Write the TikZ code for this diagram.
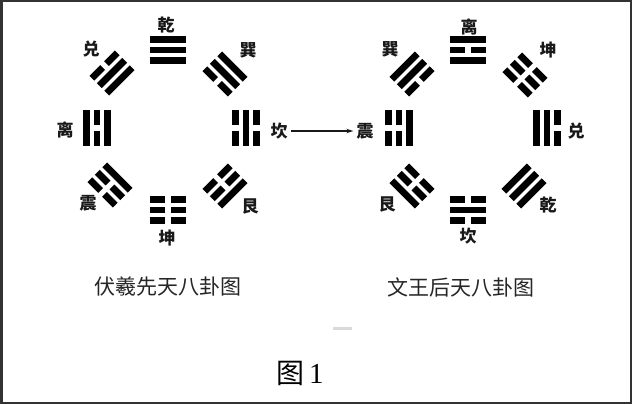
\documentclass[tikz,border=0pt]{standalone}
\usepackage{fontspec}
\setmainfont{Liberation Serif}
\newfontfamily\cjk{Noto Sans CJK SC}
\usetikzlibrary{arrows.meta}
\newcommand\gualine[2]{%
  \ifnum#2=1
    \fill (-18,#1-3.4) rectangle (18,#1+3.4);
  \else
    \fill (-18,#1-3.4) rectangle (-2.8,#1+3.4);
    \fill (2.8,#1-3.4) rectangle (18,#1+3.4);
  \fi}
\newcommand\gua[6]{%
  \begin{scope}[shift={(#1,-#2)},rotate=#3]
    \gualine{-10.5}{#4}\gualine{0}{#5}\gualine{10.5}{#6}
  \end{scope}}
\tikzset{
  glabel/.style={font=\cjk\bfseries\fontsize{17}{17}\selectfont, inner sep=0pt, text=black!90},
  caption/.style={font=\cjk\fontsize{21}{21}\selectfont, inner sep=0pt, text=black!85},
}
\begin{document}
\begin{tikzpicture}[x=1pt,y=1pt]
\fill[white] (0,0) rectangle (632,-404);
\useasboundingbox (0,0) rectangle (632,-404);
\draw[line width=2.5pt, black!80] (1.25,-1.25) rectangle (630.75,-402.75);
% Fuxi (left)
\gua{168}{50}{0}{1}{1}{1}
\gua{112}{73}{45}{1}{1}{0}
\gua{225}{74}{-45}{0}{1}{1}
\gua{97}{128}{90}{1}{0}{1}
\gua{246}{128}{-90}{0}{1}{0}
\gua{110}{185}{135}{1}{0}{0}
\gua{168}{210}{180}{0}{0}{0}
\gua{225}{186}{-135}{0}{0}{1}
\node[glabel] (fqian) at (166,-25) {乾};
\node[glabel] (fdui)  at (91,-49) {兑};
\node[glabel] (fxun)  at (248,-50) {巽};
\node[glabel] (fli)   at (65,-130) {离};
\node[glabel] (fkan)  at (279,-131) {坎};
\node[glabel] (fzhen) at (88,-203) {震};
\node[glabel] (fkun)  at (167,-238) {坤};
\node[glabel] (fgen)  at (250,-206) {艮};
% King Wen (right)
\gua{468}{50}{0}{1}{0}{1}
\gua{412}{74}{45}{0}{1}{1}
\gua{525}{75}{-45}{0}{0}{0}
\gua{399}{128}{90}{1}{0}{0}
\gua{547}{128}{-90}{1}{1}{0}
\gua{412}{186}{135}{0}{0}{1}
\gua{468}{210}{180}{0}{1}{0}
\gua{524}{186}{-135}{1}{1}{1}
\node[glabel] (wli)   at (469,-27) {离};
\node[glabel] (wxun)  at (390,-49) {巽};
\node[glabel] (wkun)  at (548,-50) {坤};
\node[glabel] (wzhen) at (365,-131) {震};
\node[glabel] (wdui)  at (576,-131) {兑};
\node[glabel] (wgen)  at (387,-204) {艮};
\node[glabel] (wkan)  at (468,-236) {坎};
\node[glabel] (wqian) at (548,-205) {乾};
% arrow
\draw[line width=1.1pt, -{Stealth[length=7pt,width=4.5pt]}, black!90]
  ([xshift=3pt]fkan.east) -- ([xshift=-3pt]wzhen.west);
% captions
\node[caption] (capl) at (168,-287) {伏羲先天八卦图};
\node[caption] (capr) at (461,-287) {文王后天八卦图};
\fill[black!15] (333,-327) rectangle (352,-329.5);
\node[inner sep=0pt, text=black] (fig) at (300,-373)
  {{\cjk\fontsize{28}{28}\selectfont 图}\hspace{0.45em}{\fontsize{29}{29}\selectfont 1}};
\end{tikzpicture}
\end{document}
